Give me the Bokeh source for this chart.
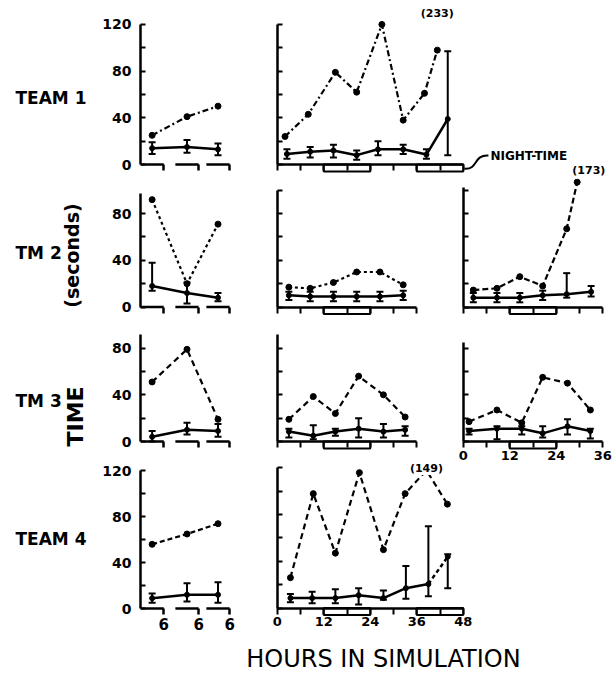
import math
from bokeh.plotting import figure
from bokeh.layouts import row, column
from bokeh.models import Range1d, FixedTicker, Whisker, TeeHead, ColumnDataSource, Label
from bokeh.core.properties import value
from bokeh.embed import file_html
from bokeh.resources import INLINE

FONT = "DejaVu Sans"

# ---------------- data (seconds) ----------------
team_labels = ["TEAM 1", "TM 2", "TM 3", "TEAM 4"]
y_title_words = ["(seconds)", "TIME"]
x_title = "HOURS IN SIMULATION"
night_label = "NIGHT-TIME"

y_major = [0, 40, 80, 120]
y_minor = [20, 60, 100]
hour_major = [0, 12, 24, 36, 48]
hour_minor = [6, 18, 30, 42]

night_start = [12, 36]
night_end = [24, 48]

# three early 6-hour sessions (left column)
session_start = [0, 9, 17]
session_end = [6, 15, 23]
session_len = 6
session_x = [3, 12, 20]

t1_first_max = [25, 41, 50]
t1_first_mean = [14, 15, 13]
t1_first_lo = [9, 10, 8]
t1_first_hi = [19, 21, 18]

t2_first_max = [92, 20, 71]
t2_first_mean = [18, 12, 8]
t2_first_lo = [14, 3, 5]
t2_first_hi = [38, 21, 12]

t3_first_max = [51, 79, 19]
t3_first_mean = [4, 10, 9]
t3_first_lo = [0, 6, 4]
t3_first_hi = [9, 16, 15]

t4_first_max = [56, 65, 74]
t4_first_mean = [9, 12, 12]
t4_first_lo = [5, 6, 5]
t4_first_hi = [13, 22, 23]

# long simulations (hours)
t1_mid_max_x = [2, 8, 15, 20.5, 27, 32.5, 38, 41.3]
t1_mid_max = [24, 43, 79, 62, 120, 38, 61, 98]
t1_mid_x = [2.5, 8.5, 14.5, 20.5, 26, 32.5, 38.5, 44]
t1_mid_mean = [9, 11, 12, 8, 13, 13, 8.5, 39]
t1_mid_lo = [5, 6, 6, 4, 8, 9, 5, 8]
t1_mid_hi = [13, 15, 17, 12, 20, 17, 13, 97]
t1_offscale = "(233)"

t2_mid_x = [3, 8.5, 14.5, 20.5, 26.5, 32.5]
t2_mid_max = [17, 16, 21, 30, 30, 19]
t2_mid_mean = [10, 9, 9, 9, 9, 10]
t2_mid_lo = [6, 5, 5, 5, 5, 6]
t2_mid_hi = [13, 13, 13, 13, 13, 14]

t2_late_max_x = [2.6, 8.7, 14.6, 20.5, 26.7, 29.4]
t2_late_max = [14.5, 16, 26, 18, 67, 107]
t2_late_x = [2.6, 8.7, 14.6, 20.5, 26.7, 33]
t2_late_mean = [8, 8, 8, 10, 11, 13]
t2_late_lo = [4, 4, 4, 6, 8, 9]
t2_late_hi = [12, 12, 12, 14, 29, 18]
t2_offscale = "(173)"

t3_mid_x = [3, 9.3, 15, 21, 27.4, 33]
t3_mid_max = [19, 38.5, 24, 56, 40, 21]
t3_mid_mean = [8.5, 5, 8.5, 11, 8.5, 10]
t3_mid_lo = [3.5, 2, 5, 3.5, 3.5, 5]
t3_mid_hi = [11, 14, 11, 20, 15, 13]

t3_late_x = [1.5, 8.7, 15.1, 20.5, 26.9, 32.8]
t3_late_max = [17, 27, 16, 55, 50, 27]
t3_late_mean = [9, 11, 11, 7, 13, 9]
t3_late_lo = [6, 2, 6, 3.5, 6, 2.5]
t3_late_hi = [11, 13, 13, 13, 19, 11]

t4_mid_max_x = [3.4, 9.3, 15, 21.2, 27.4, 33, 38.5, 43.9]
t4_mid_max = [26, 98, 47, 116, 50, 98, 118, 89]
t4_mid_x = [3.4, 9, 15, 21, 27.4, 33.2, 39, 44]
t4_mid_mean = [8.5, 8.5, 8.5, 11, 8.5, 17, 20.5, 44]
t4_mid_lo = [5, 4, 4, 3, 7, 8, 10, 17]
t4_mid_hi = [12, 14, 16, 17, 15, 36, 70, 46]
t4_offscale = "(149)"

# ---------------- layout constants (pixels) ----------------
K = 1.167      # px per second
K4_LEFT = 1.146
HR = 3.875     # px per hour
X0 = -2        # hours shown left of 0 in the hour panels
LEFT_W, LEFT_BL, LEFT_BR = 145, 45, 4
MID_X, MID_BL = 240, 29
RIGHT_X, RIGHT_BL = 440, 15

def make_panel(width, height, bl, br, zero, x_start=0.0, k=K):
    fw = width - bl - br
    p = figure(width=width, height=height, output_backend="svg", toolbar_location=None,
               x_range=Range1d(x_start, x_start + fw / HR),
               y_range=Range1d(-(height - zero) / k, zero / k),
               min_border=0, min_border_left=bl, min_border_right=br,
               min_border_top=0, min_border_bottom=0)
    p.outline_line_color = None
    p.xgrid.visible = False
    p.ygrid.visible = False
    p.background_fill_color = "white"
    p.border_fill_color = "white"
    return p

def tick_style(ax, tin, tout):
    ax.axis_line_width = 2.5
    ax.axis_line_color = "black"
    ax.major_tick_in = tin
    ax.major_tick_out = tout
    ax.minor_tick_in = tin
    ax.minor_tick_out = tout
    ax.major_tick_line_width = 2
    ax.minor_tick_line_width = 2
    ax.major_tick_line_color = "black"
    ax.minor_tick_line_color = "black"

def label_style(ax, size, standoff):
    ax.major_label_text_font = FONT
    ax.major_label_text_font_style = "bold"
    ax.major_label_text_font_size = size
    ax.major_label_text_color = "black"
    ax.major_label_standoff = standoff

def style_y(p, top, labels, fixed=False):
    ax = p.yaxis[0]
    if fixed:
        ax.fixed_location = 0
    ax.bounds = (0, top)
    ax.ticker = FixedTicker(ticks=[t for t in y_major if t <= top],
                            minor_ticks=[t for t in y_minor if t <= top])
    tick_style(ax, 5, 0)
    if labels:
        label_style(ax, "14px", 9)
    else:
        ax.major_label_text_color = None

def style_x(p, xmax, labels):
    ax = p.xaxis[0]
    ax.fixed_location = 0
    ax.bounds = (0, xmax)
    ax.ticker = FixedTicker(ticks=[t for t in hour_major if t <= xmax],
                            minor_ticks=[t for t in hour_minor if t <= xmax])
    tick_style(ax, 0, 6)
    if labels:
        label_style(ax, "13px", 3)
    else:
        ax.major_label_text_color = None

def add_series(p, xm, mx, xs, mean, lo, hi, dash, tail_dashed=False):
    p.line(xm, mx, line_width=2.2, line_dash=dash, color="black")
    p.scatter(xm, mx, size=6, color="black")
    src = ColumnDataSource(dict(x=xs, lo=lo, hi=hi))
    p.add_layout(Whisker(source=src, base="x", lower="lo", upper="hi", line_width=2,
                         line_color="black",
                         upper_head=TeeHead(size=7, line_width=2, line_color="black"),
                         lower_head=TeeHead(size=7, line_width=2, line_color="black")))
    if tail_dashed:
        p.line(xs[:-1], mean[:-1], line_width=2.5, color="black")
        p.line(xs[-2:], mean[-2:], line_width=2.5, line_dash="4 3", color="black")
    else:
        p.line(xs, mean, line_width=2.5, color="black")
    p.scatter(xs, mean, size=5, color="black")

def left_panel(height, zero, ytop, mx, mean, lo, hi, dash, show_x, k=K):
    p = make_panel(LEFT_W, height, LEFT_BL, LEFT_BR, zero, 0.0, k)
    style_y(p, ytop, True)
    ax = p.xaxis[0]
    ax.fixed_location = 0
    ax.ticker = FixedTicker(ticks=session_end, minor_ticks=[])
    tick_style(ax, 0, 6)
    ax.axis_line_color = None
    ax.major_tick_line_width = 2.5
    if show_x:
        ax.major_label_overrides = {e: str(session_len) for e in session_end}
        label_style(ax, "15px", 3)
    else:
        ax.major_label_text_color = None
    n = len(session_start)
    p.segment(x0=session_start, y0=[0] * n, x1=session_end, y1=[0] * n,
              line_width=2.5, color="black")
    add_series(p, session_x, mx, session_x, mean, lo, hi, dash)
    return p

def hours_panel(width, height, bl, zero, ytop, xmax, labels):
    p = make_panel(width, height, bl, 0, zero, X0)
    style_y(p, ytop, False, fixed=True)
    style_x(p, xmax, labels)
    ns = [s for s in night_start if s < xmax]
    ne = [e for s, e in zip(night_start, night_end) if s < xmax]
    p.quad(left=ns, right=ne, top=[0] * len(ns), bottom=[-6] * len(ns),
           fill_color="white", line_color="black", line_width=2)
    return p

# ---------------- rows ----------------
R1_H, R1_Z = 178, 164
R2_H, R2_Z = 142, 128.5
R3_H, R3_Z = 142, 121
R4_H, R4_Z = 172, 145.5
R4_Z_LEFT = 146

# Row 1
l1 = left_panel(R1_H, R1_Z, 120, t1_first_max, t1_first_mean, t1_first_lo, t1_first_hi, "6 3 2 3", False)
m1 = hours_panel(372, R1_H, MID_BL, R1_Z, 120, 48, False)
add_series(m1, t1_mid_max_x, t1_mid_max, t1_mid_x, t1_mid_mean, t1_mid_lo, t1_mid_hi, "6 3 2 3")
m1.add_layout(Label(x=t1_mid_max_x[-1], y=129, text=t1_offscale, text_align="center",
                    text_baseline="middle", text_font=FONT, text_font_style="bold",
                    text_font_size="11px", text_color="black"))
# night-time call-out
m1.bezier(x0=[night_end[-1] + 0.3], y0=[-3.5], x1=[54.5], y1=[7.7],
          cx0=[52], cy0=[-4.5], cx1=[50.5], cy1=[8.5], line_width=2, line_color="black")
m1.text(x=[55], y=[7.7], text=[night_label], text_font=value(FONT), text_font_style="bold",
        text_font_size="12px", text_align="left", text_baseline="middle", text_color="black")
# label of the off-scale point of the TM 2 right panel (drawn just above that panel)
mid_zero_px = MID_X + MID_BL - X0 * HR
right_zero_px = RIGHT_X + RIGHT_BL - X0 * HR
lab173_hour = (right_zero_px + (t2_late_max_x[-1] + 3) * HR - mid_zero_px) / HR
m1.text(x=[lab173_hour], y=[-5.1], text=[t2_offscale], text_font=value(FONT), text_font_style="bold",
        text_font_size="11px", text_align="center", text_baseline="middle", text_color="black")

# Row 2
l2 = left_panel(R2_H, R2_Z, 97, t2_first_max, t2_first_mean, t2_first_lo, t2_first_hi, "3 3", False)
m2 = hours_panel(200, R2_H, MID_BL, R2_Z, 100, 36, False)
add_series(m2, t2_mid_x, t2_mid_max, t2_mid_x, t2_mid_mean, t2_mid_lo, t2_mid_hi, "3 3")
r2 = hours_panel(172, R2_H, RIGHT_BL, R2_Z, 102, 36, False)
add_series(r2, t2_late_max_x, t2_late_max, t2_late_x, t2_late_mean, t2_late_lo, t2_late_hi, "6 3")

# Row 3
l3 = left_panel(R3_H, R3_Z, 92, t3_first_max, t3_first_mean, t3_first_lo, t3_first_hi, "6 4", False)
m3 = hours_panel(200, R3_H, MID_BL, R3_Z, 92, 36, False)
add_series(m3, t3_mid_x, t3_mid_max, t3_mid_x, t3_mid_mean, t3_mid_lo, t3_mid_hi, "6 4")
r3 = hours_panel(172, R3_H, RIGHT_BL, R3_Z, 85, 36, True)
add_series(r3, t3_late_x, t3_late_max, t3_late_x, t3_late_mean, t3_late_lo, t3_late_hi, "6 4")

# Row 4
l4 = left_panel(R4_H, R4_Z_LEFT, 120, t4_first_max, t4_first_mean, t4_first_lo, t4_first_hi, "5 3",
                True, K4_LEFT)
m4 = hours_panel(240, R4_H, MID_BL, R4_Z, 120, 48, True)
add_series(m4, t4_mid_max_x, t4_mid_max, t4_mid_x, t4_mid_mean, t4_mid_lo, t4_mid_hi, "6 4",
           tail_dashed=True)
m4.add_layout(Label(x=t4_mid_max_x[-2], y=119.5, text=t4_offscale, text_align="center",
                    text_baseline="middle", text_font=FONT, text_font_style="bold",
                    text_font_size="11px", text_color="black",
                    background_fill_color="white"))

# ---------------- label column ----------------
LAB_W, LAB_H = 95, R1_H + R2_H + R3_H + R4_H
lab = figure(width=LAB_W, height=LAB_H, output_backend="svg", toolbar_location=None,
             x_range=Range1d(0, LAB_W), y_range=Range1d(0, LAB_H),
             x_axis_type=None, y_axis_type=None, min_border=0)
lab.outline_line_color = None
lab.grid.visible = False
lab.text(x=[15, 15, 15, 15], y=[LAB_H - 97, LAB_H - 252, LAB_H - 400, LAB_H - 538],
         text=team_labels, text_font=value(FONT), text_font_style="bold",
         text_font_size="17px", text_align="left", text_baseline="middle", text_color="black")
lab.text(x=[71], y=[LAB_H - 255], text=[y_title_words[0]], angle=math.pi / 2, text_font=value(FONT),
         text_font_style="bold", text_font_size="19px", text_align="center",
         text_baseline="middle", text_color="black")
lab.text(x=[75], y=[LAB_H - 416], text=[y_title_words[1]], angle=math.pi / 2, text_font=value(FONT),
         text_font_style="bold", text_font_size="22px", text_align="center",
         text_baseline="middle", text_color="black")

# ---------------- x title ----------------
XT_W, XT_H = 612, 40
xt = figure(width=XT_W, height=XT_H, output_backend="svg", toolbar_location=None,
            x_range=Range1d(0, XT_W), y_range=Range1d(0, XT_H),
            x_axis_type=None, y_axis_type=None, min_border=0)
xt.outline_line_color = None
xt.grid.visible = False
xt.text(x=[383], y=[XT_H - 24], text=[x_title], text_font=value(FONT), text_font_size="24px",
        text_align="center", text_baseline="middle", text_color="black")

panels = column(row(l1, m1), row(l2, m2, r2), row(l3, m3, r3), row(l4, m4))
layout = column(row(lab, panels), xt)

open("out.html", "w").write(file_html(layout, INLINE))
